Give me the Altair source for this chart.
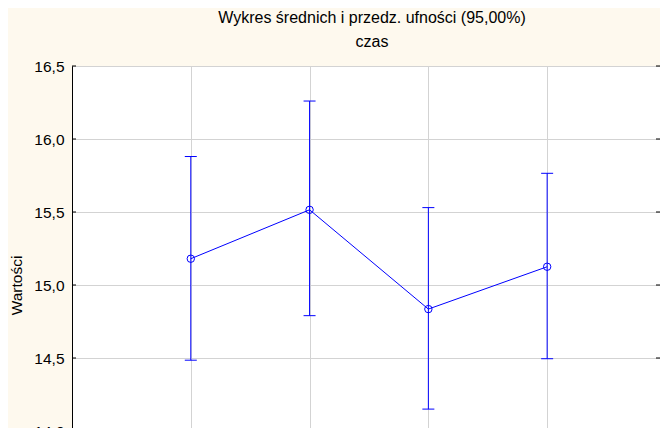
import altair as alt
import pandas as pd

# Data
groups = [1, 2, 3, 4]
means = [15.18, 15.515, 14.835, 15.125]
lower = [14.485, 14.79, 14.15, 14.495]
upper = [15.88, 16.26, 15.53, 15.765]
y_tick_values = [13.5, 14.0, 14.5, 15.0, 15.5, 16.0, 16.5]
x_grid_values = [1, 2, 3, 4]

df = pd.DataFrame({"g": groups, "m": means, "lo": lower, "hi": upper})
ticks_df = pd.DataFrame({"v": y_tick_values})

BLUE = "#0000FF"
GRID = "#D3D3D3"
FONT = "Liberation Sans"
W, H = 588, 438

xs = alt.Scale(domain=[0, 4.95], nice=False, zero=False)
ys = alt.Scale(domain=[13.5, 16.5], nice=False, zero=False)

x_axis = alt.Axis(values=x_grid_values, labels=False, ticks=False, domain=False,
                  title=None, grid=True, gridColor=GRID)
y_axis = alt.Axis(values=y_tick_values, ticks=False, domain=True, domainColor="black",
                  grid=True, gridColor=GRID,
                  labelExpr="replace(format(datum.value, '.1f'), '.', ',')",
                  labelFont=FONT, labelFontSize=15.5, labelColor="black", labelPadding=8,
                  title="Wartości", titleFont=FONT, titleFontSize=15.5, titleFontWeight="normal",
                  titleColor="black", titleAngle=-90, titleX=-51, titleY=H / 2,
                  titleAlign="center", titleBaseline="alphabetic")

base = alt.Chart(df)

line = base.mark_line(color=BLUE, strokeWidth=1).encode(
    x=alt.X("g:Q", scale=xs, axis=x_axis),
    y=alt.Y("m:Q", scale=ys, axis=y_axis),
)
pts = base.mark_point(shape="circle", filled=False, color=BLUE, size=55, strokeWidth=1, opacity=1).encode(
    x=alt.X("g:Q", scale=xs),
    y=alt.Y("m:Q", scale=ys),
)
bars = base.mark_rule(color=BLUE, strokeWidth=1).encode(
    x=alt.X("g:Q", scale=xs),
    y=alt.Y("lo:Q", scale=ys),
    y2="hi:Q",
)
cap_hi = base.mark_rule(color=BLUE, strokeWidth=1, xOffset=-6, x2Offset=6).encode(
    x=alt.X("g:Q", scale=xs), x2="g:Q", y=alt.Y("hi:Q", scale=ys),
)
cap_lo = base.mark_rule(color=BLUE, strokeWidth=1, xOffset=-6, x2Offset=6).encode(
    x=alt.X("g:Q", scale=xs), x2="g:Q", y=alt.Y("lo:Q", scale=ys),
)
tk = alt.Chart(ticks_df)
left_ticks = tk.mark_rule(color="black", strokeWidth=1).encode(
    x=alt.value(0), x2=alt.value(4), y=alt.Y("v:Q", scale=ys),
)
right_ticks = tk.mark_rule(color="black", strokeWidth=1).encode(
    x=alt.value(W - 4), x2=alt.value(W), y=alt.Y("v:Q", scale=ys),
)

chart = alt.layer(bars, cap_hi, cap_lo, line, pts, left_ticks, right_ticks).properties(
    width=W, height=H,
    title=alt.TitleParams(
        text=["Wykres średnich i przedz. ufności (95,00%)", "czas"],
        font=FONT, fontSize=16, fontWeight="normal", color="black",
        anchor="middle", frame="group", lineHeight=24, offset=9, dx=6,
    ),
    autosize=alt.AutoSizeParams(type="none"),
    padding={"left": 64, "top": 58, "right": 0, "bottom": 0},
    background="#FEF9EE",
).configure_view(stroke="black", strokeWidth=1, fill="white")

chart.save("out.html", embed_options={"renderer": "svg", "actions": False})
